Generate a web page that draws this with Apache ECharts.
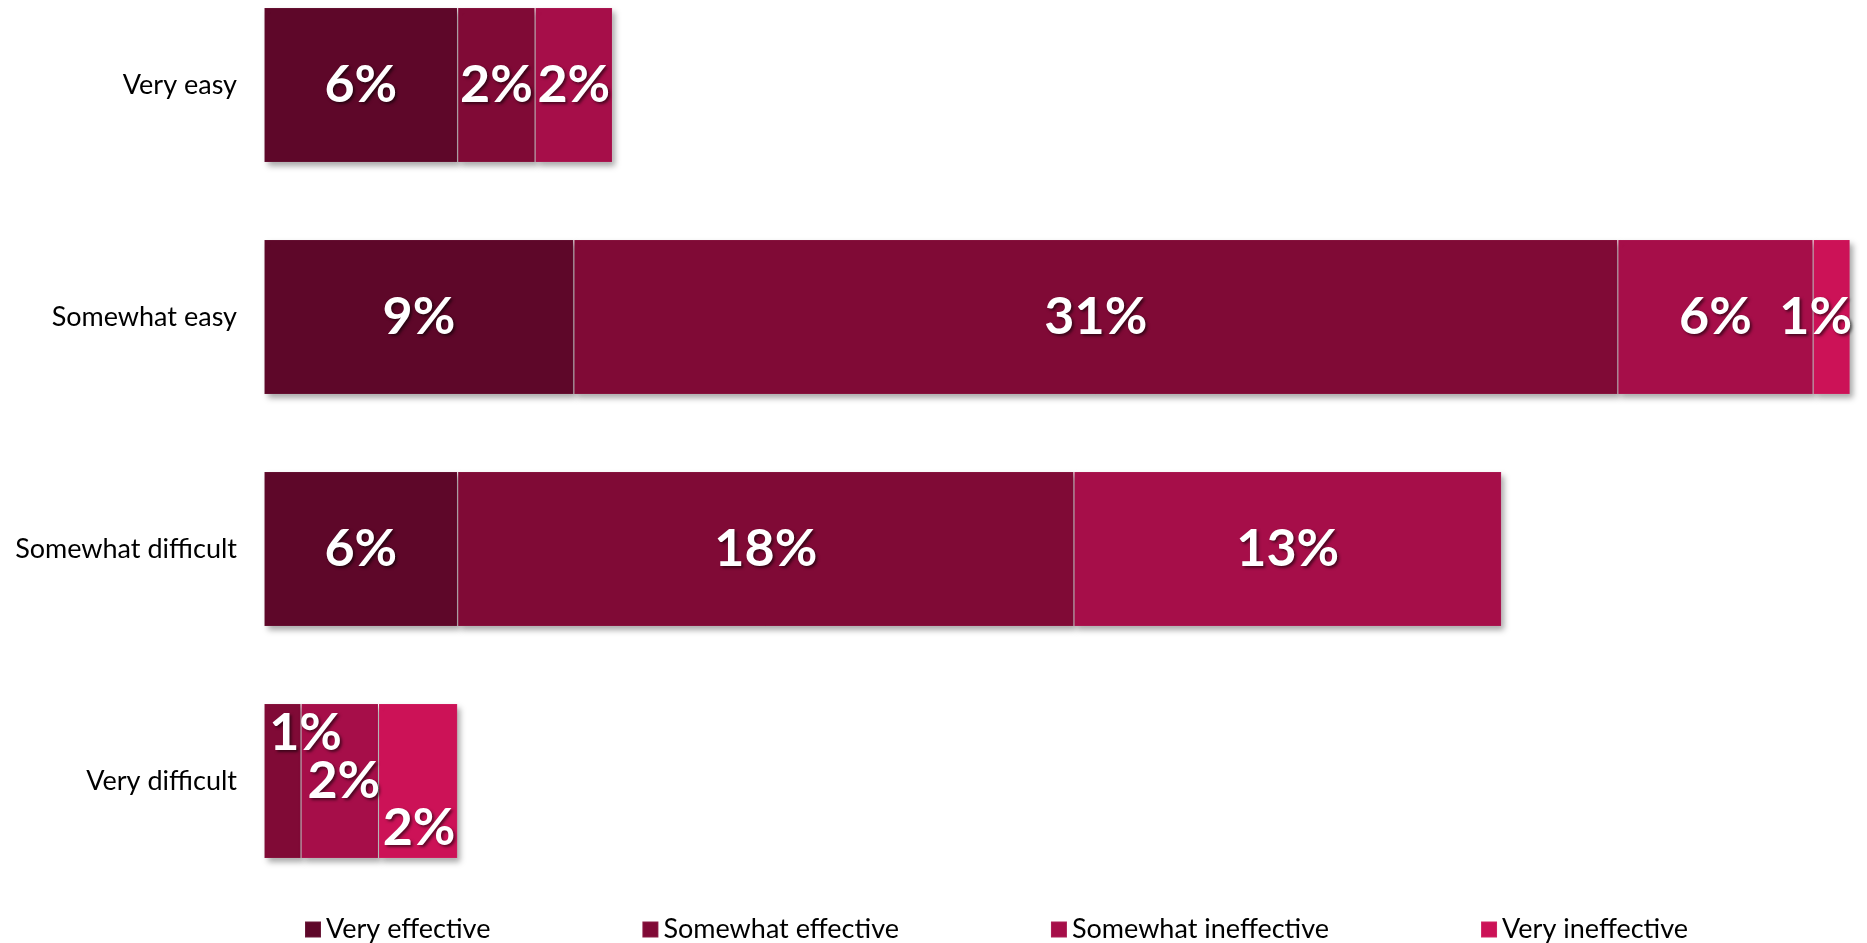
<!DOCTYPE html>
<html>
<head>
<meta charset="utf-8">
<title>Ease vs effectiveness</title>
<script src="https://cdn.jsdelivr.net/npm/echarts@6/dist/echarts.min.js"></script>
<style>
  html, body { margin: 0; padding: 0; background: #fff; }
  #chart { width: 1867px; height: 943px; }
</style>
</head>
<body>
<div id="chart"></div>
<script>
// categories (top to bottom)
var categories = ['Very easy', 'Somewhat easy', 'Somewhat difficult', 'Very difficult'];
var seriesNames = ['Very effective', 'Somewhat effective', 'Somewhat ineffective', 'Very ineffective'];

// percentages per series
var veryEffective       = [5.75, 9.2, 5.75, 0];
var somewhatEffective   = [2.3, 31.0, 18.3, 1.1];
var somewhatIneffective = [2.3, 5.8, 12.7, 2.3];
var veryIneffective     = [0, 1.1, 0, 2.35];

var colors = ['#5e0729', '#800a36', '#a60e49', '#cc1257'];

// label nudges where excel pushed overlapping labels apart
var labelOffsets = {
    '3-1': [-16, 0],
    '1-3': [23, -48],
    '2-3': [4, 0],
    '3-3': [1, 47]
};

var allValues = [veryEffective, somewhatEffective, somewhatIneffective, veryIneffective];

var chart = echarts.init(document.getElementById('chart'));

var series = allValues.map(function (vals, si) {
    return {
        name: seriesNames[si],
        type: 'bar',
        stack: 'total',
        barWidth: 155,
        itemStyle: {
            color: colors[si],
            borderColor: 'rgba(255,255,255,0.08)',
            borderWidth: 1,
            shadowColor: 'rgba(0,0,0,0.35)',
            shadowBlur: 6,
            shadowOffsetX: 3,
            shadowOffsetY: 4
        },
        label: {
            show: true,
            position: 'inside',
            color: '#fff',
            fontFamily: 'Lato',
            fontWeight: 'bold',
            fontSize: 52,
            textShadowColor: 'rgba(0,0,0,0.55)',
            textShadowBlur: 3,
            textShadowOffsetX: 2,
            textShadowOffsetY: 2,
            formatter: function (p) {
                return p.value > 0 ? Math.round(p.value) + '%' : '';
            }
        },
        data: vals.map(function (v, di) {
            var off = labelOffsets[si + '-' + di];
            if (off) {
                return { value: v, label: { offset: off } };
            }
            return v;
        })
    };
});

var option = {
    backgroundColor: '#fff',
    animation: false,
    grid: {
        left: 264,
        right: 0,
        top: -31,
        height: 928,
        containLabel: false,
        outerBoundsMode: 'none'
    },
    legend: {
        data: seriesNames,
        left: 299,
        top: 911,
        itemWidth: 16,
        itemHeight: 16,
        itemGap: 151,
        icon: 'rect',
        textStyle: {
            fontFamily: 'Lato',
            fontSize: 27,
            color: '#000'
        }
    },
    xAxis: {
        type: 'value',
        min: 0,
        max: 47.6,
        show: false
    },
    yAxis: {
        type: 'category',
        data: categories,
        inverse: true,
        axisLine: { show: false },
        axisTick: { show: false },
        splitLine: { show: false },
        axisLabel: {
            margin: 27,
            fontFamily: 'Lato',
            fontSize: 27,
            color: '#000'
        }
    },
    series: series
};

chart.setOption(option);
</script>
</body>
</html>
